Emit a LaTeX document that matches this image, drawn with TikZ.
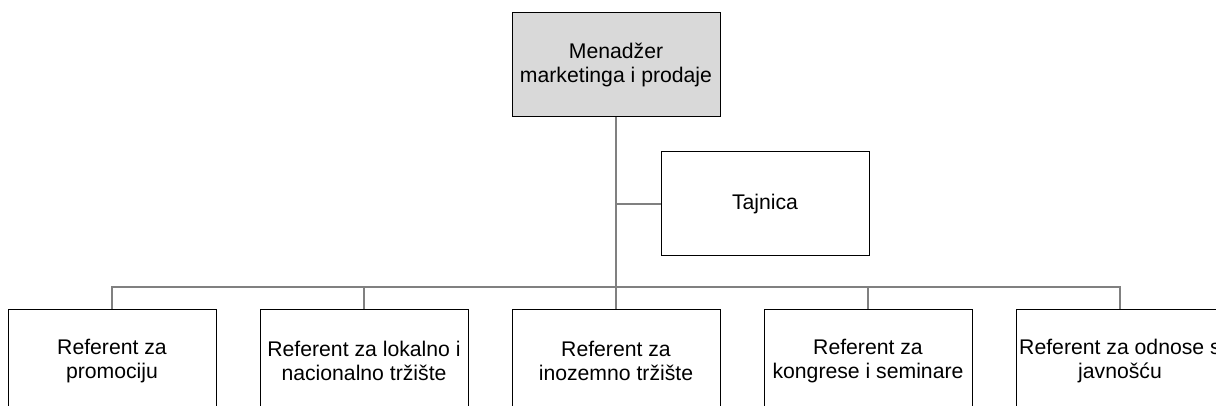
\documentclass[tikz,border=0pt]{standalone}
\usepackage{fontspec}
\setmainfont{Liberation Sans}
\definecolor{linegray}{HTML}{808080}
\definecolor{boxgray}{HTML}{D9D9D9}
\begin{document}
\begin{tikzpicture}[x=1pt,y=-1pt,
  orgbox/.style={draw=black,line width=1pt,rectangle,minimum width=208pt,minimum height=104pt,
    align=center,font=\fontsize{21.2pt}{23.5pt}\selectfont,inner sep=0pt},
  conn/.style={draw=linegray,line width=2pt}]
\useasboundingbox (0,0) rectangle (1216,406);
\clip (0,0) rectangle (1216,406);
\node[orgbox,fill=boxgray] (top) at (616,65) {Menadžer\\marketinga i prodaje};
\node[orgbox] (taj) at (765,204) {Tajnica};
\node[orgbox] (b1) at (112,361) {Referent za\\promociju};
\node[orgbox] (b2) at (364,361) {Referent za lokalno i\\nacionalno tržište};
\node[orgbox] (b3) at (616,361) {Referent za\\inozemno tržište};
\node[orgbox] (b4) at (868,361) {Referent za\\kongrese i seminare};
\node[orgbox] (b5) at (1120,361) {Referent za odnose s\\javnošću};
\coordinate (bus) at (616,287);
\draw[conn] (top.south) -- (b3.north);
\draw[conn] (top.south |- taj.west) -- (taj.west);
\draw[conn] (b1.north) -- (b1.north |- bus) -- (b5.north |- bus) -- (b5.north);
\draw[conn] (b2.north |- bus) -- (b2.north);
\draw[conn] (b4.north |- bus) -- (b4.north);
\end{tikzpicture}
\end{document}
